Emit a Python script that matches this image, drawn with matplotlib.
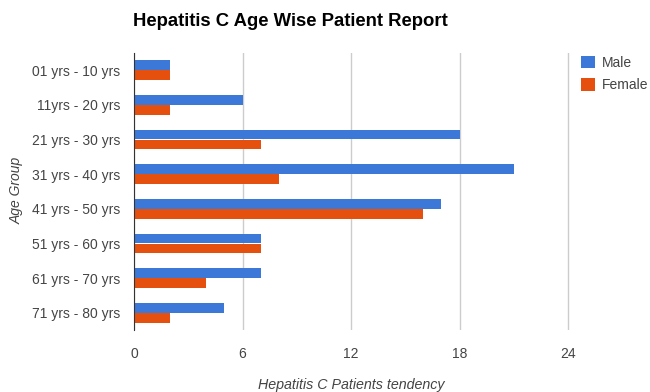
import numpy as np
import matplotlib
matplotlib.use("Agg")
import matplotlib.pyplot as plt

plt.rcParams['font.family'] = ['Liberation Sans', 'DejaVu Sans']

# data
age_groups = ["01 yrs - 10 yrs", "11yrs - 20 yrs", "21 yrs - 30 yrs", "31 yrs - 40 yrs",
              "41 yrs - 50 yrs", "51 yrs - 60 yrs", "61 yrs - 70 yrs", "71 yrs - 80 yrs"]
male = [2, 6, 18, 21, 17, 7, 7, 5]
female = [2, 2, 7, 8, 16, 7, 4, 2]
x_ticks = [0, 6, 12, 18, 24]

male_color = "#3c78d8"
female_color = "#e6500f"
text_color = "#444444"

fig = plt.figure(figsize=(6.5, 3.92), dpi=100)
x_max = 24.1
ax = fig.add_axes([134/650, 1 - 330/392, (568 - 134)/650 * x_max/24, (330 - 53)/392])

y = np.arange(len(age_groups))
bar_h = 0.28
ax.barh(y - bar_h/2 - 0.005, male, height=bar_h, color=male_color, label="Male", zorder=3)
ax.barh(y + bar_h/2 + 0.005, female, height=bar_h, color=female_color, label="Female", zorder=3)

ax.set_ylim(len(age_groups) - 0.5, -0.5)
ax.set_xlim(0, x_max)
ax.set_yticks(y)
ax.set_yticklabels(age_groups, fontsize=10, color=text_color)
ax.set_xticks(x_ticks)
ax.set_xticklabels([str(t) for t in x_ticks], fontsize=10, color=text_color)
ax.tick_params(axis='both', length=0)
ax.tick_params(axis='y', pad=10)
ax.tick_params(axis='x', pad=12)

ax.grid(axis='x', color="#cccccc", linewidth=1, zorder=0)
for s in ["top", "right", "bottom"]:
    ax.spines[s].set_visible(False)
ax.spines["left"].set_color("#333333")
ax.spines["left"].set_zorder(4)

fig.text(133/650, 1 - 21/392, "Hepatitis C Age Wise Patient Report", fontsize=13.3,
         fontweight="bold", color="black", ha="left", va="center")
fig.text(17/650, 1 - 190/392, "Age Group", fontsize=10, style="italic", color=text_color,
         rotation=90, ha="center", va="center")
fig.text(351/650, 1 - 385/392, "Hepatitis C Patients tendency", fontsize=10.3, style="italic",
         color=text_color, ha="center", va="center")

ax.legend(loc="upper left", bbox_to_anchor=(581/650, 1 - 56/392), bbox_transform=fig.transFigure,
          frameon=False, fontsize=10, handlelength=1.0, handleheight=1.0, handletextpad=0.5,
          labelspacing=0.6, labelcolor=text_color, borderaxespad=0, borderpad=0)

fig.savefig("out.png", dpi=100)
